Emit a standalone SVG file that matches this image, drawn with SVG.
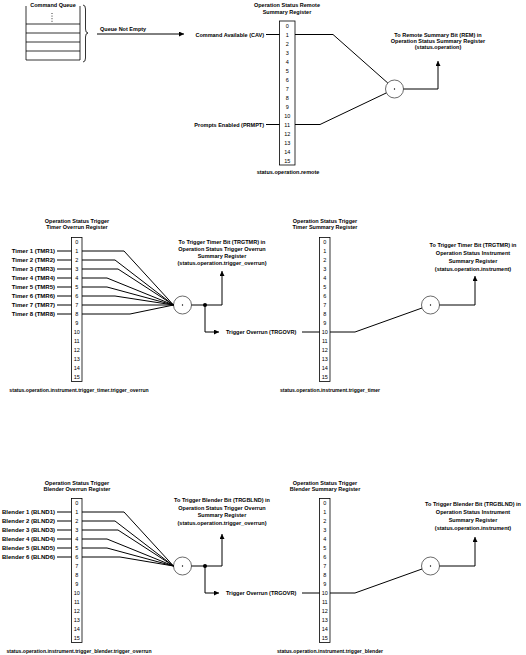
<svg xmlns="http://www.w3.org/2000/svg" width="526" height="655" viewBox="0 0 526 655">
<style>
text{font-family:"Liberation Sans",Arial,sans-serif;font-size:5.5px;font-weight:bold;fill:#000}
.n{font-weight:normal;text-anchor:middle}
.m{text-anchor:middle}
.e{text-anchor:end}
.lab{font-size:6px}
.st{font-size:5.1px}
.ln{stroke:#000;stroke-width:1;fill:none}
.box{fill:#fff;stroke:#000;stroke-width:0.8}
.circ{fill:#fff;stroke:#444;stroke-width:0.8}
.thin{stroke:#000;stroke-width:0.8;fill:none}
</style>
<defs>
<marker id="ah" markerWidth="6" markerHeight="5" refX="5" refY="2.5" orient="auto" markerUnits="userSpaceOnUse">
<path d="M0,0 L5,2.5 L0,5 Z" fill="#000"/>
</marker>
</defs>
<rect width="526" height="655" fill="#fff"/>

<g id="command-queue">
<text class="m" x="53" y="7">Command Queue</text>
<path class="thin" d="M26,6 V60 M80,6 V60 M26,24 H80 M26,33 H80 M26,42 H80 M26,51 H80 M26,60 H80"/>
<path d="M52,13 V22" stroke="#000" stroke-width="0.8" stroke-dasharray="1,1.6"/>
<path class="thin" d="M83,5 Q85.5,5 85.5,9 V29 Q85.5,33 88,33 Q85.5,33 85.5,37 V58 Q85.5,62 83,62"/>
</g>

<g id="remote-register">
<text class="m" x="287" y="7">Operation Status Remote</text>
<text class="m" x="287" y="14">Summary Register</text>
<rect class="box" x="279.5" y="21" width="15.5" height="144"/>
<text class="n" x="287.2" y="27.5">0</text><text class="n" x="287.2" y="36.5">1</text><text class="n" x="287.2" y="45.5">2</text><text class="n" x="287.2" y="54.5">3</text><text class="n" x="287.2" y="63.5">4</text><text class="n" x="287.2" y="72.5">5</text><text class="n" x="287.2" y="81.5">6</text><text class="n" x="287.2" y="90.5">7</text><text class="n" x="287.2" y="99.5">8</text><text class="n" x="287.2" y="108.5">9</text><text class="n" x="287.2" y="117.5">10</text><text class="n" x="287.2" y="126.5">11</text><text class="n" x="287.2" y="135.5">12</text><text class="n" x="287.2" y="144.5">13</text><text class="n" x="287.2" y="153.5">14</text><text class="n" x="287.2" y="162.5">15</text>
<text class="m" x="288" y="174">status.operation.remote</text>
<text x="100" y="31">Queue Not Empty</text>
<text class="e" x="264" y="36.5">Command Available (CAV)</text>
<text class="e" x="264" y="126.5">Prompts Enabled (PRMPT)</text>
</g>

<g id="remote-or">
<circle class="circ" cx="394.5" cy="89" r="9"/>
<circle cx="394.5" cy="89" r="0.7" fill="#000"/>
<text class="m" x="438" y="37">To Remote Summary Bit (REM) in</text>
<text class="m" x="438" y="43">Operation Status Summary Register</text>
<text class="m" x="438" y="49">(status.operation)</text>
</g>

<g id="timer-overrun-register">
<text class="m" x="77" y="223">Operation Status Trigger</text>
<text class="m" x="77" y="229">Timer Overrun Register</text>
<rect class="box" x="71.5" y="237.5" width="10.5" height="144"/>
<text class="n" x="76.8" y="244">0</text><text class="n" x="76.8" y="253">1</text><text class="n" x="76.8" y="262">2</text><text class="n" x="76.8" y="271">3</text><text class="n" x="76.8" y="280">4</text><text class="n" x="76.8" y="289">5</text><text class="n" x="76.8" y="298">6</text><text class="n" x="76.8" y="307">7</text><text class="n" x="76.8" y="316">8</text><text class="n" x="76.8" y="325">9</text><text class="n" x="76.8" y="334">10</text><text class="n" x="76.8" y="343">11</text><text class="n" x="76.8" y="352">12</text><text class="n" x="76.8" y="361">13</text><text class="n" x="76.8" y="370">14</text><text class="n" x="76.8" y="379">15</text>
<text class="m st" x="79" y="392">status.operation.instrument.trigger_timer.trigger_overrun</text>
<text class="e lab" x="55" y="253">Timer 1 (TMR1)</text>
<text class="e lab" x="55" y="262">Timer 2 (TMR2)</text>
<text class="e lab" x="55" y="271">Timer 3 (TMR3)</text>
<text class="e lab" x="55" y="280">Timer 4 (TMR4)</text>
<text class="e lab" x="55" y="289">Timer 5 (TMR5)</text>
<text class="e lab" x="55" y="298">Timer 6 (TMR6)</text>
<text class="e lab" x="55" y="307">Timer 7 (TMR7)</text>
<text class="e lab" x="55" y="316">Timer 8 (TMR8)</text>
</g>

<g id="timer-overrun-or">
<circle class="circ" cx="182.5" cy="305" r="9"/>
<circle cx="182.5" cy="305" r="0.7" fill="#000"/>
<circle cx="205" cy="305" r="2" fill="#000"/>
<text class="m" x="222" y="244">To Trigger Timer Bit (TRGTMR) in</text>
<text class="m" x="222" y="251">Operation Status Trigger Overrun</text>
<text class="m" x="222" y="258">Summary Register</text>
<text class="m" x="222" y="265">(status.operation.trigger_overrun)</text>
<text x="226" y="334">Trigger Overrun (TRGOVR)</text>
</g>

<g id="timer-summary-register">
<text class="m" x="325" y="223">Operation Status Trigger</text>
<text class="m" x="325" y="229">Timer Summary Register</text>
<rect class="box" x="319.5" y="237.5" width="10.5" height="144"/>
<text class="n" x="324.8" y="244">0</text><text class="n" x="324.8" y="253">1</text><text class="n" x="324.8" y="262">2</text><text class="n" x="324.8" y="271">3</text><text class="n" x="324.8" y="280">4</text><text class="n" x="324.8" y="289">5</text><text class="n" x="324.8" y="298">6</text><text class="n" x="324.8" y="307">7</text><text class="n" x="324.8" y="316">8</text><text class="n" x="324.8" y="325">9</text><text class="n" x="324.8" y="334">10</text><text class="n" x="324.8" y="343">11</text><text class="n" x="324.8" y="352">12</text><text class="n" x="324.8" y="361">13</text><text class="n" x="324.8" y="370">14</text><text class="n" x="324.8" y="379">15</text>
<text class="m st" x="330" y="392">status.operation.instrument.trigger_timer</text>
</g>

<g id="timer-summary-or">
<circle class="circ" cx="430.5" cy="305" r="9"/>
<circle cx="430.5" cy="305" r="0.7" fill="#000"/>
<text class="m" x="473" y="247">To Trigger Timer Bit (TRGTMR) in</text>
<text class="m" x="473" y="255">Operation Status Instrument</text>
<text class="m" x="473" y="263">Summary Register</text>
<text class="m" x="473" y="271">(status.operation.instrument)</text>
</g>

<g id="blender-overrun-register">
<text class="m" x="77" y="485">Operation Status Trigger</text>
<text class="m" x="77" y="491">Blender Overrun Register</text>
<rect class="box" x="71.5" y="498.5" width="10.5" height="144"/>
<text class="n" x="76.8" y="505">0</text><text class="n" x="76.8" y="514">1</text><text class="n" x="76.8" y="523">2</text><text class="n" x="76.8" y="532">3</text><text class="n" x="76.8" y="541">4</text><text class="n" x="76.8" y="550">5</text><text class="n" x="76.8" y="559">6</text><text class="n" x="76.8" y="568">7</text><text class="n" x="76.8" y="577">8</text><text class="n" x="76.8" y="586">9</text><text class="n" x="76.8" y="595">10</text><text class="n" x="76.8" y="604">11</text><text class="n" x="76.8" y="613">12</text><text class="n" x="76.8" y="622">13</text><text class="n" x="76.8" y="631">14</text><text class="n" x="76.8" y="640">15</text>
<text class="m st" x="79" y="653">status.operation.instrument.trigger_blender.trigger_overrun</text>
<text class="e lab" x="55" y="514">Blender 1 (BLND1)</text>
<text class="e lab" x="55" y="523">Blender 2 (BLND2)</text>
<text class="e lab" x="55" y="532">Blender 3 (BLND3)</text>
<text class="e lab" x="55" y="541">Blender 4 (BLND4)</text>
<text class="e lab" x="55" y="550">Blender 5 (BLND5)</text>
<text class="e lab" x="55" y="559">Blender 6 (BLND6)</text>
</g>

<g id="blender-overrun-or">
<circle class="circ" cx="182.5" cy="566" r="9"/>
<circle cx="182.5" cy="566" r="0.7" fill="#000"/>
<circle cx="205" cy="566" r="2" fill="#000"/>
<text class="m" x="222" y="501.5">To Trigger Blender Bit (TRGBLND) in</text>
<text class="m" x="222" y="509.5">Operation Status Trigger Overrun</text>
<text class="m" x="222" y="517">Summary Register</text>
<text class="m" x="222" y="524.5">(status.operation.trigger_overrun)</text>
<text x="226" y="595">Trigger Overrun (TRGOVR)</text>
</g>

<g id="blender-summary-register">
<text class="m" x="325" y="485">Operation Status Trigger</text>
<text class="m" x="325" y="491">Blender Summary Register</text>
<rect class="box" x="319.5" y="498.5" width="10.5" height="144"/>
<text class="n" x="324.8" y="505">0</text><text class="n" x="324.8" y="514">1</text><text class="n" x="324.8" y="523">2</text><text class="n" x="324.8" y="532">3</text><text class="n" x="324.8" y="541">4</text><text class="n" x="324.8" y="550">5</text><text class="n" x="324.8" y="559">6</text><text class="n" x="324.8" y="568">7</text><text class="n" x="324.8" y="577">8</text><text class="n" x="324.8" y="586">9</text><text class="n" x="324.8" y="595">10</text><text class="n" x="324.8" y="604">11</text><text class="n" x="324.8" y="613">12</text><text class="n" x="324.8" y="622">13</text><text class="n" x="324.8" y="631">14</text><text class="n" x="324.8" y="640">15</text>
<text class="m st" x="330" y="653">status.operation.instrument.trigger_blender</text>
</g>

<g id="blender-summary-or">
<circle class="circ" cx="430.5" cy="566" r="9"/>
<circle cx="430.5" cy="566" r="0.7" fill="#000"/>
<text class="m" x="473" y="506">To Trigger Blender Bit (TRGBLND) in</text>
<text class="m" x="473" y="514">Operation Status Instrument</text>
<text class="m" x="473" y="522">Summary Register</text>
<text class="m" x="473" y="530">(status.operation.instrument)</text>
</g>

<g id="connectors" class="ln">
<path d="M97,34 H184" marker-end="url(#ah)"/>
<path d="M266,34.5 H279.5"/>
<path d="M295,34.5 H333 L387.8,83"/>
<path d="M266,124.5 H279.5"/>
<path d="M295,124.5 H320 L386.4,92.9"/>
<path d="M403.5,89 H438 V61" marker-end="url(#ah)"/>

<path d="M57,251 H71.5 M57,260 H71.5 M57,269 H71.5 M57,278 H71.5 M57,287 H71.5 M57,296 H71.5 M57,305 H71.5 M57,314 H71.5"/>
<path d="M82,251 H124 L173.5,305 M82,260 H115 L173.5,305 M82,269 H118 L173.5,305 M82,278 H107 L173.5,305 M82,287 H107 L173.5,305 M82,296 H115 L173.5,305 M82,305 H125 L173.5,305 M82,314 H130 L173.5,305"/>
<path d="M191.5,305 H222 V271" marker-end="url(#ah)"/>
<path d="M205,305 V332 H219" marker-end="url(#ah)"/>
<path d="M302,332 H319.5"/>
<path d="M330,332 H355 L422,308"/>
<path d="M439.5,305 H475 V276" marker-end="url(#ah)"/>

<path d="M57,512 H71.5 M57,521 H71.5 M57,530 H71.5 M57,539 H71.5 M57,548 H71.5 M57,557 H71.5"/>
<path d="M82,512 H124 L173.5,566 M82,521 H115 L173.5,566 M82,530 H118 L173.5,566 M82,539 H107 L173.5,566 M82,548 H107 L173.5,566 M82,557 H120 L173.5,566"/>
<path d="M191.5,566 H222 V534" marker-end="url(#ah)"/>
<path d="M205,566 V593 H219" marker-end="url(#ah)"/>
<path d="M302,593 H319.5"/>
<path d="M330,593 H355 L422,569"/>
<path d="M439.5,566 H475 V537" marker-end="url(#ah)"/>
</g>
</svg>
